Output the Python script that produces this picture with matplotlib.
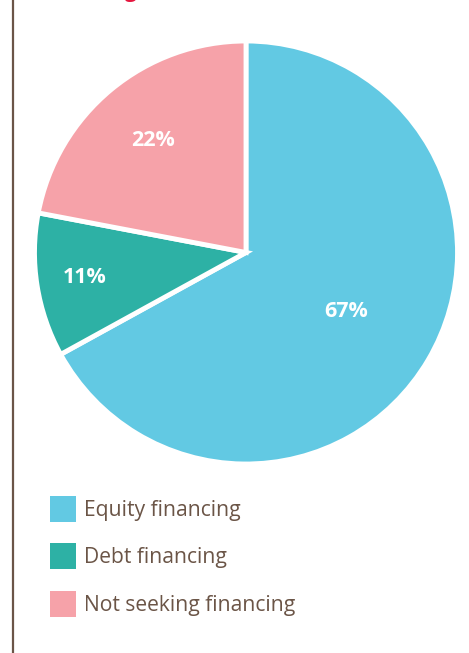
import matplotlib
matplotlib.use("Agg")
import matplotlib.pyplot as plt
from matplotlib.patches import Rectangle
from matplotlib.lines import Line2D
import numpy as np

categories = ["Equity financing", "Debt financing", "Not seeking financing"]
values = [67, 11, 22]
colors = ["#62c9e3", "#2db1a5", "#f6a2a9"]
title = "Financing"
label_dist = [0.55, 0.77, 0.69]

plt.rcParams['font.family'] = ['Open Sans', 'DejaVu Sans']
text_color = "#6b5547"

W, H = 469, 653
fig = plt.figure(figsize=(W / 100, H / 100), dpi=100)
fig.patch.set_facecolor("white")

# left vertical rule
fig.add_artist(Line2D([12.5 / W, 12.5 / W], [0, 1], color=text_color, lw=1.6,
                      transform=fig.transFigure))

# cut-off title at top
fig.text(36 / W, 1 + 3.5 / H, title, color="#e5173f", fontsize=15,
         fontweight="bold", ha="left", va="baseline")

cx, cy, r = 246, 252.5, 211.5
ax = fig.add_axes([(cx - r) / W, 1 - (cy + r) / H, 2 * r / W, 2 * r / H])
wedges, texts, autotexts = ax.pie(values, colors=colors, startangle=90,
                                  counterclock=False, autopct="%d%%",
                                  wedgeprops=dict(edgecolor="white", linewidth=3.5,
                                                  clip_on=False),
                                  textprops=dict(color="white", fontsize=15.5,
                                                 fontweight="bold"))
for w, t, d in zip(wedges, autotexts, label_dist):
    ang = np.deg2rad((w.theta1 + w.theta2) / 2)
    t.set_position((d * np.cos(ang), d * np.sin(ang)))
    t.set_ha("center")
    t.set_va("center")
ax.set_xlim(-1.0, 1.0)
ax.set_ylim(-1.0, 1.0)
ax.axis("off")

# legend
sq = 26
ys = [509, 556, 604]
for cat, col, yc in zip(categories, colors, ys):
    fig.add_artist(Rectangle((50 / W, 1 - (yc + sq / 2) / H), sq / W, sq / H,
                             facecolor=col, edgecolor="none",
                             transform=fig.transFigure))
    fig.text(84 / W, 1 - (yc + 1.5) / H, cat, color=text_color, fontsize=15.2,
             ha="left", va="center")

fig.savefig("out.png", dpi=100, facecolor="white")
